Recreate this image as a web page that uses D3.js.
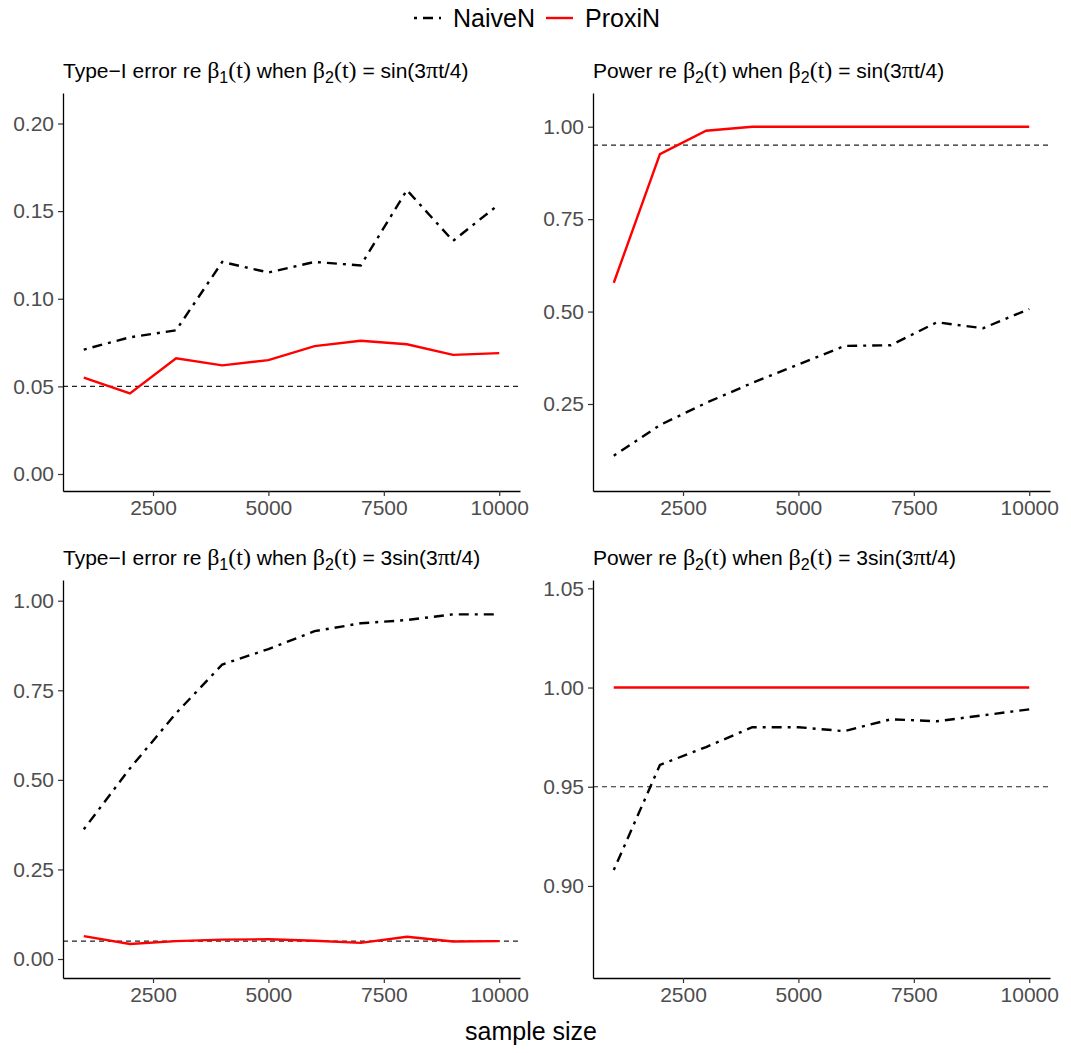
<!DOCTYPE html>
<html lang="en">
<head>
<meta charset="UTF-8">
<title>NaiveN vs ProxiN</title>
<script src="https://d3js.org/d3.v7.min.js"></script>
<style>
  body { margin: 0; background: #fff; }
  text { font-family: "Liberation Sans", Arial, sans-serif; }
</style>
</head>
<body>
<div id="chart"></div>
<script>
// sample sizes on the x axis
var sampleSizes = [1000, 2000, 3000, 4000, 5000, 6000, 7000, 8000, 9000, 10000];
var xTicks = [2500, 5000, 7500, 10000];

// beta2(t) = sin(3*pi*t/4)
var naiveTypeI1 = [0.071, 0.078, 0.082, 0.121, 0.115, 0.121, 0.119, 0.162, 0.133, 0.154];
var proxiTypeI1 = [0.055, 0.046, 0.066, 0.062, 0.065, 0.073, 0.076, 0.074, 0.068, 0.069];
var naivePower1 = [0.110, 0.193, 0.253, 0.307, 0.357, 0.407, 0.409, 0.471, 0.455, 0.507];
var proxiPower1 = [0.578, 0.926, 0.989, 1.000, 1.000, 1.000, 1.000, 1.000, 1.000, 1.000];

// beta2(t) = 3sin(3*pi*t/4)
var naiveTypeI2 = [0.362, 0.532, 0.686, 0.822, 0.865, 0.915, 0.937, 0.946, 0.962, 0.962];
var proxiTypeI2 = [0.064, 0.042, 0.050, 0.054, 0.055, 0.051, 0.045, 0.062, 0.049, 0.050];
var naivePower2 = [0.908, 0.961, 0.970, 0.980, 0.980, 0.978, 0.984, 0.983, 0.986, 0.989];
var proxiPower2 = [1.000, 1.000, 1.000, 1.000, 1.000, 1.000, 1.000, 1.000, 1.000, 1.000];

// nominal level lines, y ticks and y limits per panel
var refLevels = [0.05, 0.95, 0.05, 0.95];
var yTicks = [
  [0, 0.05, 0.10, 0.15, 0.20],
  [0.25, 0.50, 0.75, 1.00],
  [0, 0.25, 0.50, 0.75, 1.00],
  [0.90, 0.95, 1.00, 1.05]
];
var yLimits = [[-0.0097, 0.2174], [0.0147, 1.0912], [-0.053, 1.0578], [0.8536, 1.0542]];

var seriesNames = ["NaiveN", "ProxiN"];
var naiveData = [naiveTypeI1, naivePower1, naiveTypeI2, naivePower2];
var proxiData = [proxiTypeI1, proxiPower1, proxiTypeI2, proxiPower2];

// panel titles: pieces in sans, serif (greek) and subscripts
var titles = [
  [["Type\u2212I error re ", "s"], ["\u03b2", "g"], ["1", "sub"], ["(t)", "g"], [" when ", "s"], ["\u03b2", "g"], ["2", "sub"], ["(t)", "g"], [" = ", "s"], ["sin(3", "s"], ["\u03c0", "g"], ["t/4)", "s"]],
  [["Power re ", "s"], ["\u03b2", "g"], ["2", "sub"], ["(t)", "g"], [" when ", "s"], ["\u03b2", "g"], ["2", "sub"], ["(t)", "g"], [" = ", "s"], ["sin(3", "s"], ["\u03c0", "g"], ["t/4)", "s"]],
  [["Type\u2212I error re ", "s"], ["\u03b2", "g"], ["1", "sub"], ["(t)", "g"], [" when ", "s"], ["\u03b2", "g"], ["2", "sub"], ["(t)", "g"], [" = ", "s"], ["3sin(3", "s"], ["\u03c0", "g"], ["t/4)", "s"]],
  [["Power re ", "s"], ["\u03b2", "g"], ["2", "sub"], ["(t)", "g"], [" when ", "s"], ["\u03b2", "g"], ["2", "sub"], ["(t)", "g"], [" = ", "s"], ["3sin(3", "s"], ["\u03c0", "g"], ["t/4)", "s"]]
];

var width = 1071, height = 1053;
var panels = [
  {left: 63, right: 520, top: 93, bottom: 491},
  {left: 593, right: 1050, top: 93, bottom: 491},
  {left: 63, right: 520, top: 580, bottom: 978},
  {left: 593, right: 1050, top: 580, bottom: 978}
];
var naiveDash = "3,6,10,6";

var svg = d3.select("#chart").append("svg")
  .attr("width", width)
  .attr("height", height);

panels.forEach(function(p, i) {
  var x = d3.scaleLinear().domain([550, 10450]).range([p.left, p.right]);
  var y = d3.scaleLinear().domain(yLimits[i]).range([p.bottom, p.top]);
  var g = svg.append("g");

  // reference level
  g.append("line")
    .attr("x1", p.left).attr("x2", p.right)
    .attr("y1", y(refLevels[i])).attr("y2", y(refLevels[i]))
    .attr("stroke", "#222").attr("stroke-width", 1.2)
    .attr("stroke-dasharray", "5,4");

  var line = d3.line()
    .x(function(d, k) { return x(sampleSizes[k]); })
    .y(function(d) { return y(d); });

  g.append("path").datum(naiveData[i])
    .attr("d", line)
    .attr("fill", "none").attr("stroke", "#000")
    .attr("stroke-width", 2.4)
    .attr("stroke-dasharray", naiveDash);

  g.append("path").datum(proxiData[i])
    .attr("d", line)
    .attr("fill", "none").attr("stroke", "#ff0000")
    .attr("stroke-width", 2.4);

  // axes
  var xAxis = g.append("g")
    .attr("transform", "translate(0," + p.bottom + ")")
    .call(d3.axisBottom(x).tickValues(xTicks).tickFormat(d3.format("d"))
      .tickSize(5).tickSizeOuter(0).tickPadding(4));
  var yAxis = g.append("g")
    .attr("transform", "translate(" + p.left + ",0)")
    .call(d3.axisLeft(y).tickValues(yTicks[i]).tickFormat(d3.format(".2f"))
      .tickSize(5).tickSizeOuter(0).tickPadding(4));

  [xAxis, yAxis].forEach(function(a) {
    a.select(".domain").attr("stroke", "#000").attr("stroke-width", 1.3);
    a.selectAll(".tick line").attr("stroke", "#333").attr("stroke-width", 1.2);
    a.selectAll(".tick text").attr("fill", "#4d4d4d")
      .style("font-size", "21px")
      .style("font-family", "'Liberation Sans', Arial, sans-serif");
  });

  // title
  var t = svg.append("text")
    .attr("x", p.left)
    .attr("y", p.top - 15)
    .attr("fill", "#000")
    .style("font-size", "21px");
  var shifted = false;
  titles[i].forEach(function(part) {
    var s = t.append("tspan").text(part[0]);
    if (part[1] === "g") {
      s.style("font-family", "'Liberation Serif', 'Times New Roman', serif").style("font-size", "24px");
    }
    if (part[1] === "sub") {
      s.attr("dy", 5).style("font-size", "16px");
      shifted = true;
    } else if (shifted) {
      s.attr("dy", -5);
      shifted = false;
    }
  });
});

// x axis title
svg.append("text")
  .attr("x", 531).attr("y", 1040)
  .attr("text-anchor", "middle")
  .style("font-size", "25px")
  .text("sample size");

// legend
var legend = svg.append("g");
legend.append("line")
  .attr("x1", 414).attr("x2", 441).attr("y1", 18).attr("y2", 18)
  .attr("stroke", "#000").attr("stroke-width", 2.4)
  .attr("stroke-dasharray", naiveDash);
legend.append("text")
  .attr("x", 453).attr("y", 27)
  .style("font-size", "25px")
  .text(seriesNames[0]);
legend.append("line")
  .attr("x1", 546).attr("x2", 573).attr("y1", 18).attr("y2", 18)
  .attr("stroke", "#ff0000").attr("stroke-width", 2.4);
legend.append("text")
  .attr("x", 585).attr("y", 27)
  .style("font-size", "25px")
  .text(seriesNames[1]);
</script>
</body>
</html>
